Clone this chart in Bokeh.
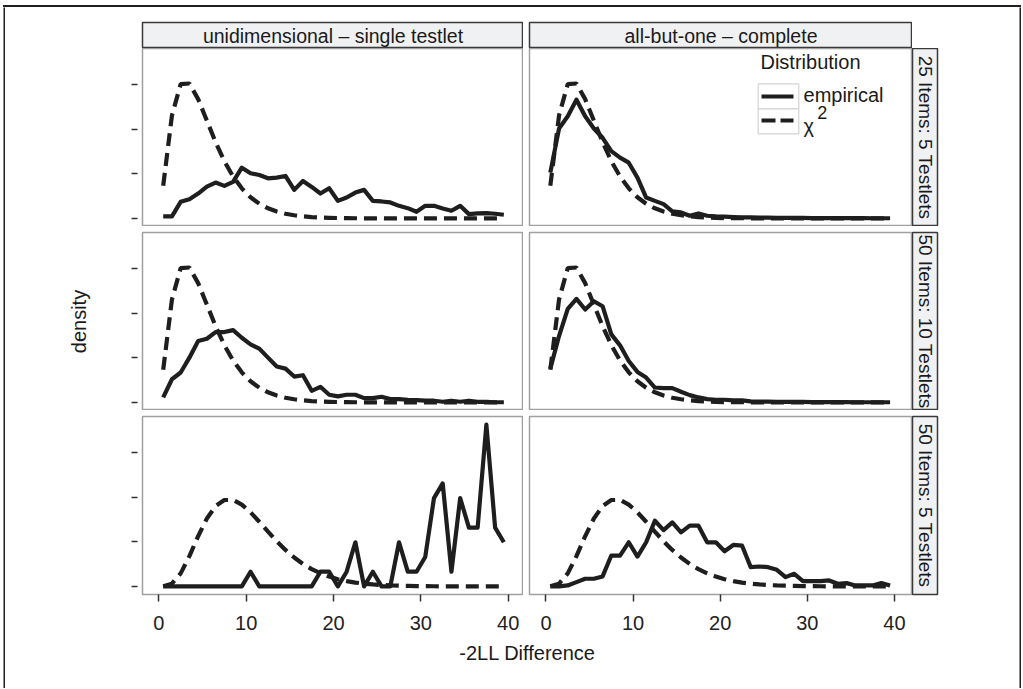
from bokeh.plotting import figure
from bokeh.layouts import row, column
from bokeh.models import Range1d, LinearAxis, FixedTicker, Spacer, CustomJSTickFormatter, Div
from bokeh.core.properties import value
from bokeh.embed import file_html
from bokeh.resources import INLINE

# ---------------- data ----------------
x_vals = [0.5, 1.5, 2.5, 3.5, 4.5, 5.5, 6.5, 7.5, 8.5, 9.5,
          10.5, 11.5, 12.5, 13.5, 14.5, 15.5, 16.5, 17.5, 18.5, 19.5,
          20.5, 21.5, 22.5, 23.5, 24.5, 25.5, 26.5, 27.5, 28.5, 29.5,
          30.5, 31.5, 32.5, 33.5, 34.5, 35.5, 36.5, 37.5, 38.5, 39.5]

col_labels = ["unidimensional \u2013 single testlet", "all-but-one \u2013 complete"]
row_labels = ["25 Items: 5 Testlets", "50 Items: 10 Testlets", "50 Items: 5 Testlets"]
x_ticks = [0, 10, 20, 30, 40]
y_ticks = [0, 0.05, 0.10, 0.15]

emp_r1_c1 = [0.0022, 0.0022, 0.0186, 0.0216, 0.0279, 0.0357, 0.0402, 0.0365, 0.0409, 0.0569,
             0.0506, 0.0487, 0.0450, 0.0458, 0.0476, 0.0320, 0.0420, 0.0353, 0.0279, 0.0339,
             0.0197, 0.0234, 0.0290, 0.0320, 0.0197, 0.0190, 0.0179, 0.0141, 0.0115, 0.0074,
             0.0141, 0.0141, 0.0112, 0.0086, 0.0141, 0.0048, 0.0056, 0.0060, 0.0052, 0.0041]
emp_r1_c2 = [0.0513, 0.1008, 0.1146, 0.1332, 0.1146, 0.1008, 0.0904, 0.0755, 0.0681, 0.0625,
             0.0458, 0.0234, 0.0197, 0.0160, 0.0078, 0.0067, 0.0030, 0.0056, 0.0030, 0.0022,
             0.0019, 0.0015, 0.0011, 0.0011, 0.0008, 0.0008, 0.0006, 0.0006, 0.0005, 0.0005,
             0.0004, 0.0004, 0.0004, 0.0003, 0.0003, 0.0003, 0.0003, 0.0002, 0.0002, 0.0002]
emp_r2_c1 = [0.0056, 0.0260, 0.0335, 0.0502, 0.0688, 0.0714, 0.0789, 0.0789, 0.0811, 0.0725,
             0.0651, 0.0603, 0.0502, 0.0402, 0.0379, 0.0290, 0.0305, 0.0130, 0.0175, 0.0086,
             0.0067, 0.0086, 0.0086, 0.0048, 0.0048, 0.0063, 0.0037, 0.0037, 0.0030, 0.0026,
             0.0019, 0.0019, 0.0007, 0.0019, 0.0007, 0.0019, 0.0007, 0.0007, 0.0002, 0.0002]
emp_r2_c2 = [0.0379, 0.0744, 0.1049, 0.1161, 0.1042, 0.1135, 0.1079, 0.0763, 0.0640, 0.0465,
             0.0342, 0.0279, 0.0167, 0.0160, 0.0160, 0.0119, 0.0082, 0.0056, 0.0037, 0.0030,
             0.0030, 0.0022, 0.0022, 0.0011, 0.0008, 0.0008, 0.0007, 0.0006, 0.0005, 0.0005,
             0.0004, 0.0004, 0.0003, 0.0003, 0.0003, 0.0002, 0.0002, 0.0002, 0.0002, 0.0002]
emp_r3_c1 = [0, 0, 0, 0, 0, 0, 0, 0, 0, 0,
             0.0165, 0, 0, 0, 0, 0, 0, 0, 0.0165, 0.0165,
             0, 0.0165, 0.0495, 0, 0.0165, 0, 0, 0.0495, 0.0165, 0.0165,
             0.0330, 0.0990, 0.1155, 0.0165, 0.0990, 0.0660, 0.0660, 0.1815, 0.0660, 0.0495]
emp_r3_c2 = [0, 0, 0.0011, 0.0048, 0.0086, 0.0086, 0.0112, 0.0346, 0.0346, 0.0495,
             0.0335, 0.0495, 0.0737, 0.0632, 0.0718, 0.0606, 0.0681, 0.0681, 0.0495, 0.0495,
             0.0394, 0.0465, 0.0458, 0.0216, 0.0223, 0.0216, 0.0186, 0.0104, 0.0141, 0.0060,
             0.0060, 0.0060, 0.0067, 0.0030, 0.0037, 0.0011, 0.0011, 0.0011, 0.0037, 0.0011]

chi_df5 = [0.0366, 0.1154, 0.1506, 0.1513, 0.1338, 0.1097, 0.0855, 0.0642, 0.0470, 0.0337,
           0.0237, 0.0165, 0.0113, 0.0077, 0.0052, 0.0035, 0.0023, 0.0015, 0.0010, 0.0007,
           0.0004, 0.0003, 0.0002, 0.0001, 0.0001, 0.0001, 0, 0, 0, 0,
           0, 0, 0, 0, 0, 0, 0, 0, 0, 0]
chi_df10 = [0.0001, 0.0031, 0.0146, 0.0340, 0.0563, 0.0762, 0.0901, 0.0969, 0.0970, 0.0918,
            0.0831, 0.0725, 0.0614, 0.0506, 0.0409, 0.0324, 0.0252, 0.0194, 0.0147, 0.0110,
            0.0081, 0.0060, 0.0043, 0.0031, 0.0022, 0.0016, 0.0011, 0.0008, 0.0006, 0.0004,
            0.0003, 0.0002, 0.0001, 0.0001, 0.0001, 0, 0, 0, 0, 0]

# ---------------- style / layout ----------------
FONT = "Liberation Sans"
LINE = "#1e1e1e"
TEXT = "#1a1a1a"
STRIP_FILL = "#f0f1f3"
STRIP_LINE = "#3a3a3a"
PANEL_LINE = "#a0a0a0"
FRAME = "#231f20"
DASH = "13 7"
LW = 4.2

Y_RANGE = (-0.009075, 0.190575)
X_RANGE_1 = (-1.87, 41.75)
X_RANGE_2 = (-1.89, 42.07)

CONTENT_W = 1014
CONTENT_H = 681
STRIP_TOP_H = 41           # content rows 0..41 (strip box at 15..41)
STRIP_TOP_PAD = 15
LEFT1 = 137                # left margin before column 1 panels
W1, W2 = 381, 383          # panel widths
GAP = 6
PH = 178                   # panel height
STRIP_W = 25
RIGHT_REST = CONTENT_W - LEFT1 - W1 - GAP - W2
BOT = 46
XLAB_H = CONTENT_H - STRIP_TOP_H - PH - (PH + GAP) - (PH + GAP + BOT)


def base_fig(w, h, xr, yr, left=0, right=0, top=0, bottom=0):
    p = figure(width=w, height=h, x_range=Range1d(*xr), y_range=Range1d(*yr),
               x_axis_location=None, y_axis_location=None, toolbar_location=None,
               tools="", output_backend="svg",
               min_border_left=left, min_border_right=right,
               min_border_top=top, min_border_bottom=bottom)
    p.title.visible = False
    p.background_fill_color = "white"
    p.border_fill_color = "white"
    p.grid.visible = False
    p.outline_line_color = None
    return p


def panel(w, h, xr, left, top, bottom, emp, chi, yaxis=False, xaxis=False, ylabel=None):
    p = base_fig(w, h, xr, Y_RANGE, left=left, top=top, bottom=bottom)
    p.outline_line_color = PANEL_LINE
    p.outline_line_width = 1.5
    p.line(x_vals, emp, line_color=LINE, line_width=LW, line_join="round")
    p.line(x_vals, chi, line_color=LINE, line_width=LW, line_dash=DASH)
    if yaxis:
        ax = LinearAxis(ticker=FixedTicker(ticks=y_ticks, minor_ticks=[]),
                        formatter=CustomJSTickFormatter(code="return ''"),
                        axis_line_color=None, major_tick_in=-5, major_tick_out=11,
                        major_tick_line_color="#333333", major_tick_line_width=1.5,
                        minor_tick_line_color=None, major_label_text_color=None,
                        major_label_standoff=0)
        if ylabel:
            ax.axis_label = ylabel
            ax.axis_label_text_font = FONT
            ax.axis_label_text_font_size = "20px"
            ax.axis_label_text_font_style = "normal"
            ax.axis_label_text_color = TEXT
            ax.axis_label_standoff = 42
        p.add_layout(ax, "left")
    if xaxis:
        ax = LinearAxis(ticker=FixedTicker(ticks=x_ticks, minor_ticks=[]),
                        axis_line_color=None, major_tick_in=0, major_tick_out=7,
                        major_tick_line_color="#333333", major_tick_line_width=1.5,
                        minor_tick_line_color=None, major_label_text_font=FONT,
                        major_label_text_font_size="20px", major_label_text_color="#222222",
                        major_label_standoff=14)
        p.add_layout(ax, "below")
    return p


def strip_top(w, left, label):
    p = base_fig(w, STRIP_TOP_H, (0, 1), (0, 1), left=left, top=STRIP_TOP_PAD)
    p.background_fill_color = STRIP_FILL
    p.outline_line_color = STRIP_LINE
    p.outline_line_width = 1.5
    p.text(x=[0.5], y=[0.5], text=[label], text_align="center", text_baseline="middle",
           text_font=value(FONT), text_font_size="19.5px", text_color=TEXT)
    return p


def strip_right(h, top, bottom, label):
    p = base_fig(RIGHT_REST, h, (0, 1), (0, 1), right=RIGHT_REST - STRIP_W, top=top, bottom=bottom)
    p.background_fill_color = STRIP_FILL
    p.outline_line_color = STRIP_LINE
    p.outline_line_width = 1.5
    p.text(x=[0.5], y=[0.5], text=[label], angle=-1.5707963, text_align="center",
           text_baseline="middle", text_font=value(FONT), text_font_size="19px", text_color=TEXT)
    return p


def rule_fig(w, h):
    # a figure whose frame is filled black: used for the vertical outer frame rules
    p = base_fig(w, h, (0, 1), (0, 1))
    p.background_fill_color = FRAME
    p.border_fill_color = FRAME
    return p


# strips row
s1 = strip_top(LEFT1 + W1, LEFT1, col_labels[0])
s2 = strip_top(GAP + W2, GAP, col_labels[1])
row0 = row(s1, s2, Spacer(width=RIGHT_REST, height=STRIP_TOP_H))

# panel row 1
p11 = panel(LEFT1 + W1, PH, X_RANGE_1, LEFT1, 0, 0, emp_r1_c1, chi_df5, yaxis=True)
p12 = panel(GAP + W2, PH, X_RANGE_2, GAP, 0, 0, emp_r1_c2, chi_df5)
r1 = strip_right(PH, 0, 0, row_labels[0])

# legend inside the top-right panel
LEG_X0, LEG_X1 = 24.36, 29.02
p12.quad(left=[LEG_X0, LEG_X0], right=[LEG_X1, LEG_X1], top=[0.15098, 0.12294],
         bottom=[0.12294, 0.09490], fill_color="white", line_color="#d4d4d4", line_width=1.2)
p12.line([24.74, 28.41], [0.13674, 0.13674], line_color=LINE, line_width=LW)
p12.line([24.74, 28.41], [0.10982, 0.10982], line_color=LINE, line_width=LW, line_dash="14 5")
p12.text(x=[24.62], y=[0.1752], text=["Distribution"], text_align="left", text_baseline="middle",
         text_font=value(FONT), text_font_size="20px", text_color=TEXT)
p12.text(x=[29.56], y=[0.1379], text=["empirical"], text_align="left", text_baseline="middle",
         text_font=value(FONT), text_font_size="20px", text_color=TEXT)
p12.text(x=[29.56], y=[0.1042], text=["\u03c7"], text_align="left", text_baseline="middle",
         text_font=value(FONT), text_font_size="20px", text_color=TEXT)
p12.text(x=[31.13], y=[0.1191], text=["2"], text_align="left", text_baseline="middle",
         text_font=value(FONT), text_font_size="18px", text_color=TEXT)

# panel row 2
p21 = panel(LEFT1 + W1, PH + GAP, X_RANGE_1, LEFT1, GAP, 0, emp_r2_c1, chi_df5, yaxis=True,
            ylabel="density")
p22 = panel(GAP + W2, PH + GAP, X_RANGE_2, GAP, GAP, 0, emp_r2_c2, chi_df5)
r2 = strip_right(PH + GAP, GAP, 0, row_labels[1])

# panel row 3
p31 = panel(LEFT1 + W1, PH + GAP + BOT, X_RANGE_1, LEFT1, GAP, BOT, emp_r3_c1, chi_df10,
            yaxis=True, xaxis=True)
p32 = panel(GAP + W2, PH + GAP + BOT, X_RANGE_2, GAP, GAP, BOT, emp_r3_c2, chi_df10, xaxis=True)
r3 = strip_right(PH + GAP + BOT, GAP, BOT, row_labels[2])

# x-axis title, centred under both columns
pb = base_fig(CONTENT_W, XLAB_H, (0, CONTENT_W), (0, XLAB_H))
pb.text(x=[(LEFT1 + LEFT1 + W1 + GAP + W2) / 2], y=[XLAB_H - 12], text=["-2LL Difference"],
        text_align="center", text_baseline="middle",
        text_font=value(FONT), text_font_size="20px", text_color=TEXT)

content = column(row0, row(p11, p12, r1), row(p21, p22, r2), row(p31, p32, r3), pb)

# top rule of the outer frame (an empty block with a dark background)
top_rule = Div(text="", width=CONTENT_W + 4, height=2, margin=0,
               styles={"background-color": FRAME})

layout = column(
    Spacer(width=3, height=5),
    row(Spacer(width=3, height=2), top_rule),
    row(Spacer(width=3, height=CONTENT_H), rule_fig(2, CONTENT_H), content, rule_fig(2, CONTENT_H)),
)

open("out.html", "w").write(file_html(layout, INLINE))
